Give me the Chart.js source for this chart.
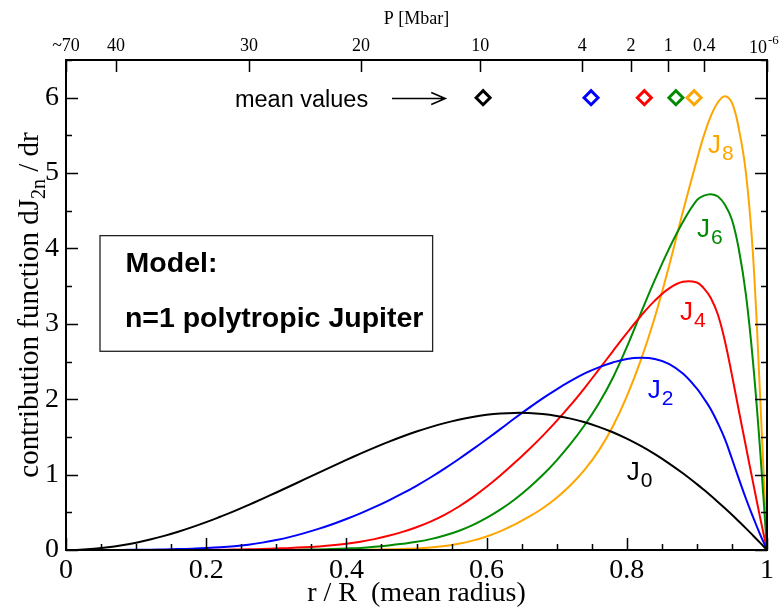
<!DOCTYPE html>
<html>
<head>
<meta charset="utf-8">
<script src="https://cdn.jsdelivr.net/npm/chart.js@4.4.0/dist/chart.umd.min.js"></script>
<style>
  html, body { margin: 0; padding: 0; background: #fff; }
</style>
</head>
<body>
<canvas id="chart" width="782" height="609"></canvas>
<script>
// r / R sample points
const rValues = [0, 0.02, 0.04, 0.06, 0.08, 0.1, 0.12, 0.14, 0.16, 0.18,
    0.2, 0.22, 0.24, 0.26, 0.28, 0.3, 0.32, 0.34, 0.36, 0.38,
    0.4, 0.42, 0.44, 0.46, 0.48, 0.5, 0.52, 0.54, 0.56, 0.58,
    0.6, 0.62, 0.64, 0.66, 0.68, 0.7, 0.72, 0.74, 0.76, 0.78,
    0.8, 0.82, 0.84, 0.86, 0.88, 0.9,
    0.91, 0.92, 0.93, 0.94, 0.95, 0.96, 0.97, 0.98, 0.99, 1.0];

// contribution functions dJ2n/dr
const dJ0 = [0, 0.004, 0.016, 0.035, 0.063, 0.097, 0.139, 0.187, 0.242, 0.303,
    0.369, 0.441, 0.516, 0.596, 0.678, 0.763, 0.849, 0.936, 1.023, 1.110,
    1.195, 1.278, 1.358, 1.434, 1.505, 1.571, 1.630, 1.683, 1.728, 1.765,
    1.793, 1.811, 1.819, 1.817, 1.804, 1.779, 1.743, 1.695, 1.634, 1.562,
    1.477, 1.380, 1.271, 1.150, 1.018, 0.874,
    0.798, 0.719, 0.637, 0.553, 0.467, 0.378, 0.287, 0.193, 0.098, 0];
const dJ2 = [0, 0, 0, 0.0005, 0.001, 0.003, 0.004, 0.008, 0.012, 0.018,
    0.025, 0.035, 0.050, 0.071, 0.098, 0.132, 0.174, 0.224, 0.280, 0.342,
    0.411, 0.486, 0.568, 0.656, 0.750, 0.852, 0.962, 1.080, 1.204, 1.334,
    1.469, 1.607, 1.747, 1.882, 2.012, 2.132, 2.242, 2.342, 2.422, 2.487,
    2.535, 2.550, 2.535, 2.470, 2.340, 2.140,
    2.010, 1.865, 1.680, 1.470, 1.210, 0.940, 0.680, 0.440, 0.210, 0];
const dJ4 = [0, 0, 0, 0, 0, 0, 0, 0.001, 0.001, 0.002,
    0.003, 0.004, 0.006, 0.009, 0.014, 0.020, 0.026, 0.035, 0.047, 0.062,
    0.082, 0.109, 0.144, 0.188, 0.240, 0.302, 0.376, 0.466, 0.574, 0.698,
    0.838, 0.992, 1.156, 1.330, 1.514, 1.712, 1.924, 2.152, 2.392, 2.636,
    2.876, 3.104, 3.308, 3.468, 3.558, 3.548,
    3.47, 3.34, 3.12, 2.77, 2.32, 1.84, 1.37, 0.90, 0.44, 0];
const dJ6 = [0, 0, 0, 0, 0, 0, 0, 0, 0, 0,
    0, 0, 0, 0, 0.001, 0.002, 0.003, 0.005, 0.008, 0.013,
    0.020, 0.028, 0.042, 0.060, 0.082, 0.108, 0.144, 0.192, 0.252, 0.330,
    0.426, 0.538, 0.670, 0.822, 0.994, 1.190, 1.410, 1.658, 1.942, 2.282,
    2.692, 3.142, 3.582, 3.992, 4.352, 4.642,
    4.70, 4.72, 4.69, 4.58, 4.38, 3.98, 3.38, 2.50, 1.35, 0];
const dJ8 = [0, 0, 0, 0, 0, 0, 0, 0, 0, 0,
    0, 0, 0, 0, 0, 0, 0, 0, 0.001, 0.002,
    0.003, 0.004, 0.006, 0.009, 0.014, 0.020, 0.032, 0.052, 0.082, 0.124,
    0.180, 0.250, 0.338, 0.438, 0.554, 0.694, 0.862, 1.066, 1.318, 1.638,
    2.038, 2.518, 3.088, 3.758, 4.488, 5.178,
    5.50, 5.76, 5.94, 6.02, 5.93, 5.58, 5.00, 3.92, 2.08, 0];

// mean radius of each contribution (diamonds)
const meanR = [0.595, 0.749, 0.825, 0.870, 0.896];
const meanLevel = 6;

// axis ticks
const xTickValues = [0, 0.2, 0.4, 0.6, 0.8, 1];
const xTickLabels = ['0', '0.2', '0.4', '0.6', '0.8', '1'];
const yTickValues = [0, 1, 2, 3, 4, 5, 6];
const yTickLabels = ['0', '1', '2', '3', '4', '5', '6'];
const pTickR = [0, 0.0713, 0.261, 0.421, 0.591, 0.7365, 0.806, 0.859, 0.9106, 1];
const pTickLabels = ['~70', '40', '30', '20', '10', '4', '2', '1', '0.4', '10'];
const pLastExp = '-6';

const colors = ['#000000', '#0000ff', '#ff0000', '#008b00', '#ffa500'];
const series = [dJ0, dJ2, dJ4, dJ6, dJ8];
const labelSubs = ['0', '2', '4', '6', '8'];
// label anchors in data units (r, value)
const labelPos = [[0.800, 0.93], [0.830, 2.01], [0.876, 3.05], [0.900, 4.15], [0.916, 5.27]];

const SERIF = '"Liberation Serif", "Times New Roman", serif';
const SANS = '"Liberation Sans", Arial, sans-serif';

const toPoints = arr => arr.map((v, i) => ({ x: rValues[i], y: v }));

const datasets = series.map((s, i) => ({
    label: 'J' + labelSubs[i],
    data: toPoints(s),
    borderColor: colors[i],
    borderWidth: 2,
    pointRadius: 0,
    fill: false,
    tension: 0.4
}));
datasets.push({
    type: 'scatter',
    label: 'mean values',
    data: meanR.map(r => ({ x: r, y: meanLevel })),
    pointStyle: 'rectRot',
    pointRadius: 7,
    pointBorderWidth: 3,
    pointBorderColor: colors,
    pointBackgroundColor: '#ffffff',
    showLine: false
});

// frame, inward ticks, titles and annotations
const decorPlugin = {
    id: 'decor',
    afterDatasetsDraw(chart) {
        const { ctx, chartArea: a, scales } = chart;
        const sx = scales.x, sy = scales.y;
        const px = v => sx.getPixelForValue(v);
        const py = v => sy.getPixelForValue(v);
        ctx.save();
        ctx.strokeStyle = '#000';
        ctx.lineWidth = 2;
        ctx.strokeRect(a.left, a.top, a.right - a.left, a.bottom - a.top);

        ctx.lineWidth = 1.5;
        ctx.beginPath();
        for (let i = 0; i <= 20; i++) {
            const len = i % 4 === 0 ? 12 : 6;
            const x = Math.round(px(i * 0.05)) + 0.5;
            ctx.moveTo(x, a.bottom); ctx.lineTo(x, a.bottom - len);
        }
        for (let i = 0; i <= 13; i++) {
            const len = i % 2 === 0 ? 12 : 6;
            const y = Math.round(py(i * 0.5)) + 0.5;
            ctx.moveTo(a.left, y); ctx.lineTo(a.left + len, y);
            ctx.moveTo(a.right, y); ctx.lineTo(a.right - len, y);
        }
        pTickR.forEach(r => {
            const x = Math.round(scales.xTop.getPixelForValue(r)) + 0.5;
            ctx.moveTo(x, a.top); ctx.lineTo(x, a.top + 12);
        });
        ctx.stroke();

        // axis titles
        ctx.fillStyle = '#000';
        ctx.textAlign = 'center';
        ctx.textBaseline = 'alphabetic';
        ctx.font = '18px ' + SERIF;
        ctx.fillText('P [Mbar]', (a.left + a.right) / 2, 24);

        // last pressure label with its exponent
        const lastX = scales.xTop.getPixelForValue(pTickR[pTickR.length - 1]);
        ctx.textAlign = 'right';
        ctx.fillText(pTickLabels[pTickLabels.length - 1], lastX, 53);
        ctx.textAlign = 'left';
        ctx.font = '13px ' + SERIF;
        ctx.fillText(pLastExp, lastX + 1, 44);

        ctx.textAlign = 'center';
        ctx.font = '28px ' + SERIF;
        ctx.fillText('r / R  (mean radius)', (a.left + a.right) / 2, 601);

        ctx.save();
        ctx.translate(38, (a.top + a.bottom) / 2);
        ctx.rotate(-Math.PI / 2);
        ctx.textAlign = 'left';
        const big = '29px ' + SERIF, small = '20px ' + SERIF;
        const parts = [['contribution function dJ', big, 0], ['2n', small, 7], [' / dr', big, 0]];
        let total = 0;
        parts.forEach(p => { ctx.font = p[1]; total += ctx.measureText(p[0]).width; });
        let cx = -total / 2;
        parts.forEach(p => { ctx.font = p[1]; ctx.fillText(p[0], cx, p[2]); cx += ctx.measureText(p[0]).width; });
        ctx.restore();

        // curve labels
        ctx.textAlign = 'left';
        labelPos.forEach((pos, i) => {
            const x = px(pos[0]), y = py(pos[1]);
            ctx.fillStyle = colors[i];
            ctx.font = '26px ' + SANS;
            ctx.fillText('J', x, y);
            const w = ctx.measureText('J').width;
            ctx.font = '21px ' + SANS;
            ctx.fillText(labelSubs[i], x + w + 1, y + 7);
        });

        // mean values note with arrow
        ctx.fillStyle = '#000';
        ctx.font = '23.5px ' + SANS;
        ctx.fillText('mean values', px(0.241), py(5.88));
        const ay = py(5.99), ax0 = px(0.465), ax1 = px(0.541);
        ctx.lineWidth = 1.6;
        ctx.beginPath();
        ctx.moveTo(ax0, ay); ctx.lineTo(ax1, ay);
        ctx.moveTo(ax1 - 14, ay - 6); ctx.lineTo(ax1, ay); ctx.lineTo(ax1 - 14, ay + 6);
        ctx.stroke();

        // model box
        const bx0 = px(0.0485), bx1 = px(0.523), by0 = py(4.17), by1 = py(2.636);
        ctx.lineWidth = 1.3;
        ctx.strokeStyle = '#222';
        ctx.strokeRect(bx0, by0, bx1 - bx0, by1 - by0);
        ctx.font = 'bold 28.5px ' + SANS;
        ctx.fillText('Model:', px(0.085), py(3.686));
        ctx.fillText('n=1 polytropic Jupiter', px(0.084), py(2.958));
        ctx.restore();
    }
};

new Chart(document.getElementById('chart'), {
    type: 'line',
    data: { datasets },
    options: {
        responsive: false,
        animation: false,
        layout: { padding: { left: 0, right: 15, top: 0, bottom: 0 } },
        plugins: { legend: { display: false }, tooltip: { enabled: false } },
        scales: {
            x: {
                type: 'linear', position: 'bottom', min: 0, max: 1,
                grid: { display: false, drawTicks: false }, border: { display: false },
                afterBuildTicks: s => { s.ticks = xTickValues.map(v => ({ value: v })); },
                afterFit: s => { s.height = 59; s.paddingLeft = 0; s.paddingRight = 0; },
                ticks: {
                    autoSkip: false, maxRotation: 0, padding: 4, color: '#000',
                    font: { family: SERIF, size: 28 },
                    callback: (v, i) => xTickLabels[i]
                }
            },
            xTop: {
                type: 'linear', position: 'top', min: 0, max: 1,
                grid: { display: false, drawTicks: false }, border: { display: false },
                afterBuildTicks: s => { s.ticks = pTickR.map(v => ({ value: v })); },
                afterFit: s => { s.height = 60; s.paddingLeft = 0; s.paddingRight = 0; },
                ticks: {
                    autoSkip: false, maxRotation: 0, padding: 3, color: '#000',
                    font: { family: SERIF, size: 18 },
                    // last label is drawn with its exponent by the plugin
                    callback: (v, i) => (i === pTickLabels.length - 1 ? '' : pTickLabels[i])
                }
            },
            y: {
                type: 'linear', position: 'left', min: 0, max: 6.5,
                grid: { display: false, drawTicks: false }, border: { display: false },
                afterBuildTicks: s => { s.ticks = yTickValues.map(v => ({ value: v })); },
                afterFit: s => { s.width = 66; s.paddingTop = 0; s.paddingBottom = 0; },
                ticks: {
                    padding: 7, color: '#000',
                    font: { family: SERIF, size: 28 },
                    callback: (v, i) => yTickLabels[i]
                }
            }
        }
    },
    plugins: [decorPlugin]
});
</script>
</body>
</html>
